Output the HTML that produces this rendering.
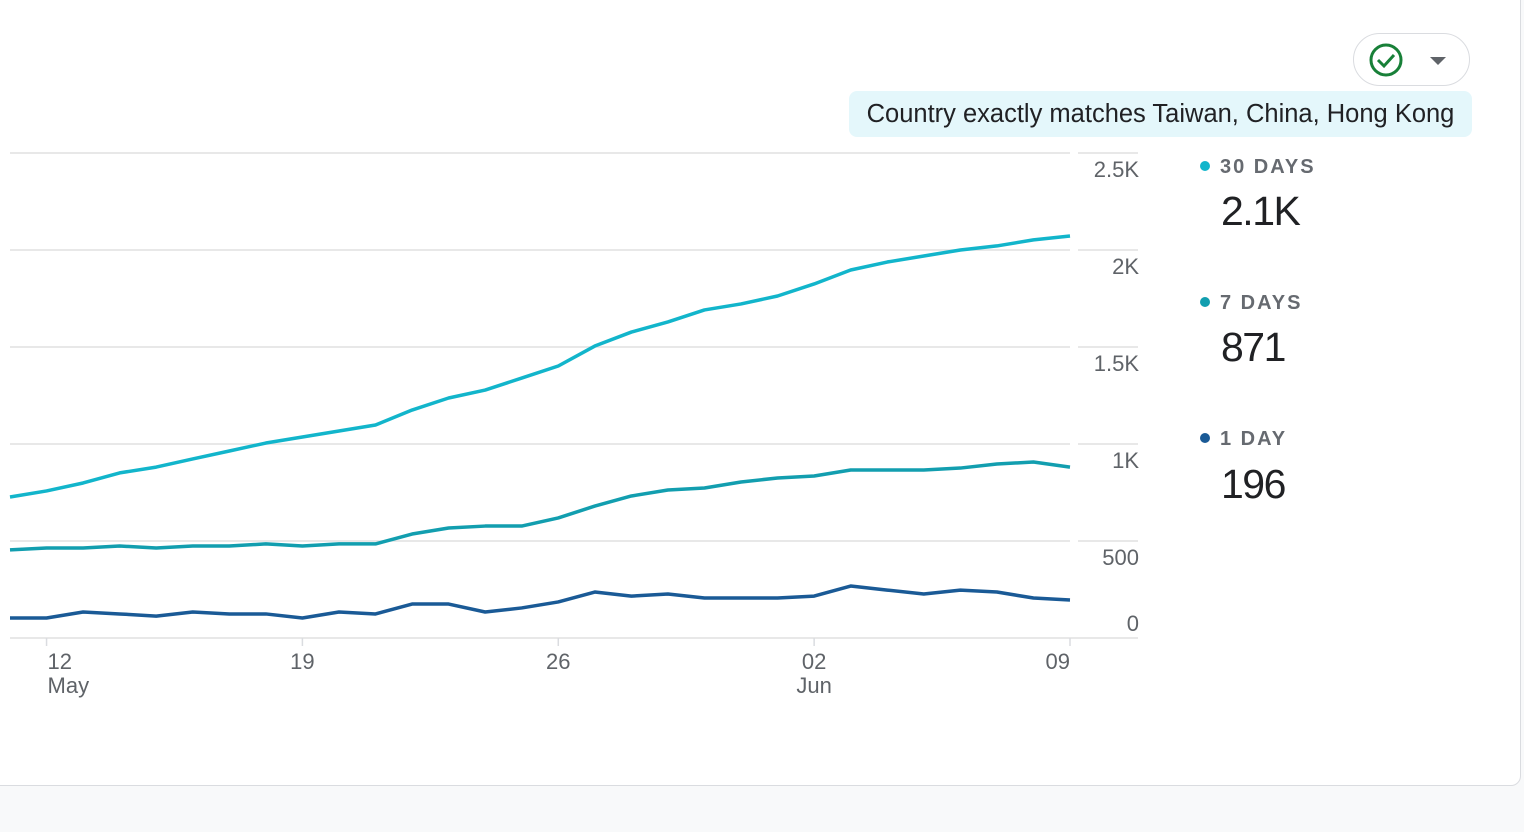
<!DOCTYPE html>
<html><head><meta charset="utf-8"><style>
body{margin:0;width:1524px;height:832px;background:#f8f9fa;font-family:"Liberation Sans",sans-serif;overflow:hidden;position:relative}
#card{position:absolute;left:-2px;top:-2px;width:1521px;height:786px;background:#fff;border:1px solid #dadce0;border-radius:0 0 10px 0}
#btn{position:absolute;left:1353px;top:33px;width:117px;height:53px;border:1.5px solid #dadce0;border-radius:27px;box-sizing:border-box}
#filter{position:absolute;left:849px;top:91px;width:623px;height:46px;background:#e4f7fb;border-radius:8px;font-size:25.5px;color:#202124;line-height:46px;text-align:center}
.leg{position:absolute;left:1200px;font-size:20px;letter-spacing:2px;color:#5f6368;font-weight:bold;color:#666a70}
.leg i{display:inline-block;width:10px;height:10px;border-radius:50%;margin-right:10px;vertical-align:2px}
.val{position:absolute;left:1221px;font-size:41px;color:#202124;letter-spacing:-1.5px}
</style></head><body>
<div id="card"></div>
<div id="btn">
<svg width="116" height="52" style="position:absolute;left:-1.5px;top:-1.5px"><circle cx="33" cy="27" r="15" fill="none" stroke="#188038" stroke-width="3"/><path d="M25 27l6 6 10-11" fill="none" stroke="#188038" stroke-width="3"/><path d="M77 24h16l-8 8z" fill="#5f6368"/></svg></div>
<div id="filter">Country exactly matches Taiwan, China, Hong Kong</div>
<div class="leg" style="top:156px"><i style="background:#12b5cb"></i>30 DAYS</div>
<div class="val" style="top:188px">2.1K</div>
<div class="leg" style="top:292px"><i style="background:#129eaf"></i>7 DAYS</div>
<div class="val" style="top:324px">871</div>
<div class="leg" style="top:428px"><i style="background:#1a5a96"></i>1 DAY</div>
<div class="val" style="top:461px">196</div>
<svg id="chart" width="1524" height="832" style="position:absolute;left:0;top:0"></svg>
<script>
const yTicks=[0,500,1000,1500,2000,2500];
const yTickLabels=["0","500","1K","1.5K","2K","2.5K"];
const xTickIdx=[1,8,15,22,29];
const xTickLabels=["12","19","26","02","09"];
const xTickSub=["May","","","Jun",""];
const series30=[727,758,799,851,881,923,964,1005,1036,1067,1098,1175,1237,1278,1340,1402,1505,1577,1629,1691,1722,1763,1825,1897,1938,1969,2000,2021,2052,2072];
const series7=[454,464,464,474,464,474,474,485,474,485,485,536,567,577,577,619,680,732,763,773,804,825,835,866,866,866,876,897,907,881];
const series1=[103,103,134,124,113,134,124,124,103,134,124,175,175,134,155,186,237,216,227,206,206,206,216,268,247,227,247,237,206,196];
const svg=document.getElementById('chart');
const NS='http://www.w3.org/2000/svg';
const x=i=>10+i*(1060/29);
const y=v=>638-v*(485/2500);
function mk(t,a){const e=document.createElementNS(NS,t);for(const k in a)e.setAttribute(k,a[k]);svg.appendChild(e);return e;}
yTicks.forEach((v,i)=>{
 const g=mk('line',{x1:10,x2:i==0?1138:1070,y1:y(v),y2:y(v),stroke:'#e0e0e0','stroke-width':1.5});
 
 
 if(i>0){const s=mk('line',{x1:1078,x2:1138,y1:y(v),y2:y(v),stroke:'#e0e0e0','stroke-width':1.5});
 
 }
 const t=mk('text',{x:1139,y:i==0?y(v)-7:y(v)+24,'text-anchor':'end','font-size':22,fill:'#5f6368','font-family':'Liberation Sans'});
 t.textContent=yTickLabels[i];
 
 
});
xTickIdx.forEach((d,i)=>{
 const tk=mk('line',{x1:x(d),x2:x(d),y1:638,y2:646,stroke:'#dadce0','stroke-width':1.5});
 
 
 const anchor=i==0?'start':(i==4?'end':'middle');const xx=i==0?x(d)+1:x(d);
 const t=mk('text',{x:xx,y:669,'text-anchor':anchor,'font-size':22,fill:'#5f6368','font-family':'Liberation Sans'});
 t.textContent=xTickLabels[i];
 
 
 if(xTickSub[i]){const s=mk('text',{x:xx,y:693,'text-anchor':anchor,'font-size':22,fill:'#5f6368','font-family':'Liberation Sans'});
 s.textContent=xTickSub[i];
 
 }
});
[[series30,'#12b5cb','line-30-days'],[series7,'#129eaf','line-7-days'],[series1,'#1a5a96','line-1-day']].forEach(([s,c,n])=>{
 const p=mk('polyline',{points:s.map((v,i)=>x(i)+','+y(v)).join(' '),fill:'none',stroke:c,'stroke-width':3.5,'stroke-linejoin':'round'});
 
 
});
</script>
</body></html>
